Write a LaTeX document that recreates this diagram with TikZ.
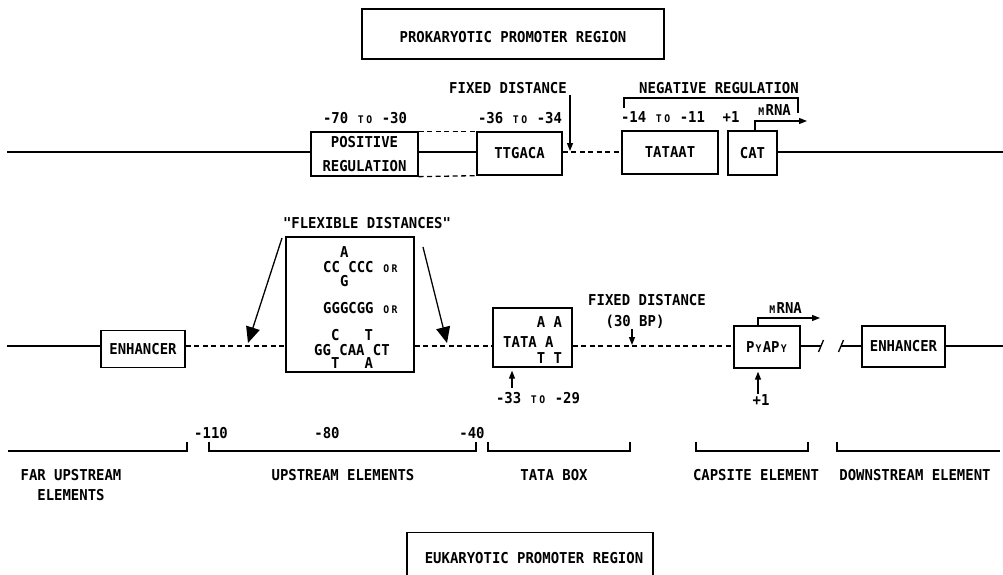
\documentclass[tikz,border=0pt]{standalone}
\usepackage{fontspec}
\newfontfamily\gothfont[FakeStretch=0.93,UprightFont=* Bold]{DejaVu Sans Mono}
\usetikzlibrary{arrows.meta}
\newcommand\sm[1]{\makebox[8.4pt]{\fontsize{10.5}{12}\selectfont #1}}
\newcommand\stk[4]{\rlap{\raisebox{#3}{#1}}\raisebox{#4}{#2}}
\begin{document}
\begin{tikzpicture}[x=1pt,y=-1pt,
  every node/.style={font=\gothfont\fontsize{15}{18}\selectfont, inner sep=0pt},
  box/.style={draw, line width=1.3pt, inner sep=0pt},
  ln/.style={line width=1.3pt},
  dsh/.style={line width=1.3pt, dash pattern=on 5pt off 3.5pt},
  sarr/.style={line width=1.3pt, -{Triangle[length=8pt,width=6pt]}},
  barr/.style={line width=1.3pt, -{Triangle[length=16pt,width=14pt]}},
  brk/.style={line width=1.2pt}
]
\useasboundingbox (0,0) rectangle (1003,575);
\clip (0,0) rectangle (1003,575);

% ---------------- prokaryotic ----------------
\node[box, minimum width=302pt, text height=34pt, text depth=16pt] (prok) at (513,34) {PROKARYOTIC PROMOTER REGION\hspace{12pt}};

\node[box, minimum width=107pt, minimum height=44pt, align=center, font=\gothfont\fontsize{15}{24}\selectfont] (pos) at (364.5,154) {POSITIVE\\REGULATION};
\node[box, minimum width=85pt, minimum height=43pt] (ttg) at (519.5,153.5) {TTGACA};
\node[box, minimum width=96pt, minimum height=43pt] (tataat) at (670,152.5) {TATAAT};
\node[box, minimum width=49pt, minimum height=44pt] (cat) at (752.5,153) {CAT};

\coordinate (pl) at (7,152);
\coordinate (pr) at (1003,152);
\draw[ln] (pl) -- (pos.west |- pl);
\draw[dsh] (pos.north east) -- (ttg.north west);
\draw[dsh] (pos.south east) -- (ttg.south west);
\draw[ln] (pos.east |- pl) -- (ttg.west |- pl);
\draw[dsh] (ttg.east |- pl) -- (tataat.west |- pl);
\draw[ln] (cat.east |- pl) -- (pr);

\node (l1) at (365,118) {-70 \sm{T}\sm{O} -30};
\node (l2) at (520,118) {-36 \sm{T}\sm{O} -34};
\node (fd1) at (508,88) {FIXED DISTANCE};
\coordinate (fa1) at (570,95);
\coordinate (fa1t) at (570,151);
\draw[sarr] (fa1) -- (fa1t);
\node (neg) at (719,88) {NEGATIVE REGULATION};
\draw[ln] (624,108) |- (798,98) -- (798,113);
\node (l3) at (663,117) {-14 \sm{T}\sm{O} -11};
\node (p1) at (731,117) {+1};
\node (mr1) at (774,110) {\sm{M}RNA};
\coordinate (mr1e) at (807,121);
\draw[sarr] ([xshift=2.5pt]cat.north) |- (mr1e);

% ---------------- eukaryotic ----------------
\coordinate (ml) at (7,346);
\coordinate (mr) at (1003,346);

\node[box, minimum width=84pt, minimum height=37pt] (enh1) at (143,349) {ENHANCER};
\node[box, minimum width=128pt, minimum height=135pt] (big) at (350,304.5) {};
\node[anchor=base west] (s1) at (323,272) {CC\stk{A}{G}{15pt}{-14pt}CCC \sm{O}\sm{R}};
\node[anchor=base west] (s2) at (323,313) {GGGCGG \sm{O}\sm{R}};
\node[anchor=base west] (s3) at (314,355) {GG\stk{C}{T}{14.5pt}{-13pt}CAA\stk{T}{A}{14.5pt}{-13pt}CT};
\node (flex) at (367,223) {"FLEXIBLE DISTANCES"};
\coordinate (fl1a) at (282,238);
\coordinate (fl1b) at (248,343);
\coordinate (fl2a) at (423,247);
\coordinate (fl2b) at (447,343);
\draw[barr] (fl1a) -- (fl1b);
\draw[barr] (fl2a) -- (fl2b);

\node[box, minimum width=79pt, minimum height=59pt] (tata) at (532.5,337.5) {};
\node[anchor=base west] (tt) at (503,347) {TATA\stk{A}{T}{20pt}{-16pt}A\stk{A}{T}{20pt}{-16pt}};
\node (fd2) at (647,300) {FIXED DISTANCE};
\node (bp) at (635,322) {(30 BP)};
\coordinate (fa2) at (632,329);
\coordinate (fa2t) at (632,345);
\draw[sarr] (fa2) -- (fa2t);

\node[box, minimum width=66pt, minimum height=42pt] (py) at (767,347) {P\sm{Y}AP\sm{Y}};
\node (mr2) at (785,308) {\sm{M}RNA};
\coordinate (mr2e) at (820,318);
\draw[sarr] ([xshift=-9pt]py.north) |- (mr2e);
\node (plus) at (761,400) {+1};
\coordinate (pa) at (758,394);
\draw[sarr, shorten >=3pt] (pa) -- ([xshift=-9pt]py.south);
\node (r33) at (538,398) {-33 \sm{T}\sm{O} -29};
\coordinate (ta) at (512,388);
\draw[sarr, shorten >=3pt] (ta) -- ([xshift=-20.5pt]tata.south);

\node[box, minimum width=83pt, minimum height=41pt] (enh2) at (903.5,346.5) {ENHANCER};

\draw[ln] (ml) -- (enh1.west |- ml);
\draw[dsh] (enh1.east |- ml) -- (big.west |- ml);
\draw[dsh] (big.east |- ml) -- (tata.west |- ml);
\draw[dsh] (tata.east |- ml) -- (py.west |- ml);
\coordinate (k1) at (821,346);
\coordinate (k2) at (841,346);
\draw[ln] (py.east |- ml) -- (k1);
\draw[ln] (k1) ++(-2.5,6) -- ++(5,-12);
\draw[ln] (k2) ++(-2.5,6) -- ++(5,-12);
\draw[ln] (k2) -- (enh2.west |- ml);
\draw[ln] (enh2.east |- ml) -- (mr);

% ---------------- bottom scale ----------------
\draw[brk] (8,451) -- (187,451) -- (187,442);
\draw[brk] (209,442) -- (209,451) -- (476,451) -- (476,442);
\draw[brk] (488,442) -- (488,451) -- (630,451) -- (630,442);
\draw[brk] (696,442) -- (696,451) -- (808,451) -- (808,442);
\draw[brk] (837,442) -- (837,451) -- (1000,451);

\node (n110) at (211,433) {-110};
\node (n80) at (327,433) {-80};
\node (n40) at (472,433) {-40};

\node[align=center, font=\gothfont\fontsize{15}{20}\selectfont] (far) at (71,485) {FAR UPSTREAM\\ELEMENTS};
\node (ups) at (343,475) {UPSTREAM ELEMENTS};
\node (tbx) at (554,475) {TATA BOX};
\node (cap) at (756,475) {CAPSITE ELEMENT};
\node (dwn) at (915,475) {DOWNSTREAM ELEMENT};

\node[box, anchor=north, minimum width=246pt, minimum height=50pt] (euk) at (530,532) {\hspace{8pt}EUKARYOTIC PROMOTER REGION};
\end{tikzpicture}
\end{document}
